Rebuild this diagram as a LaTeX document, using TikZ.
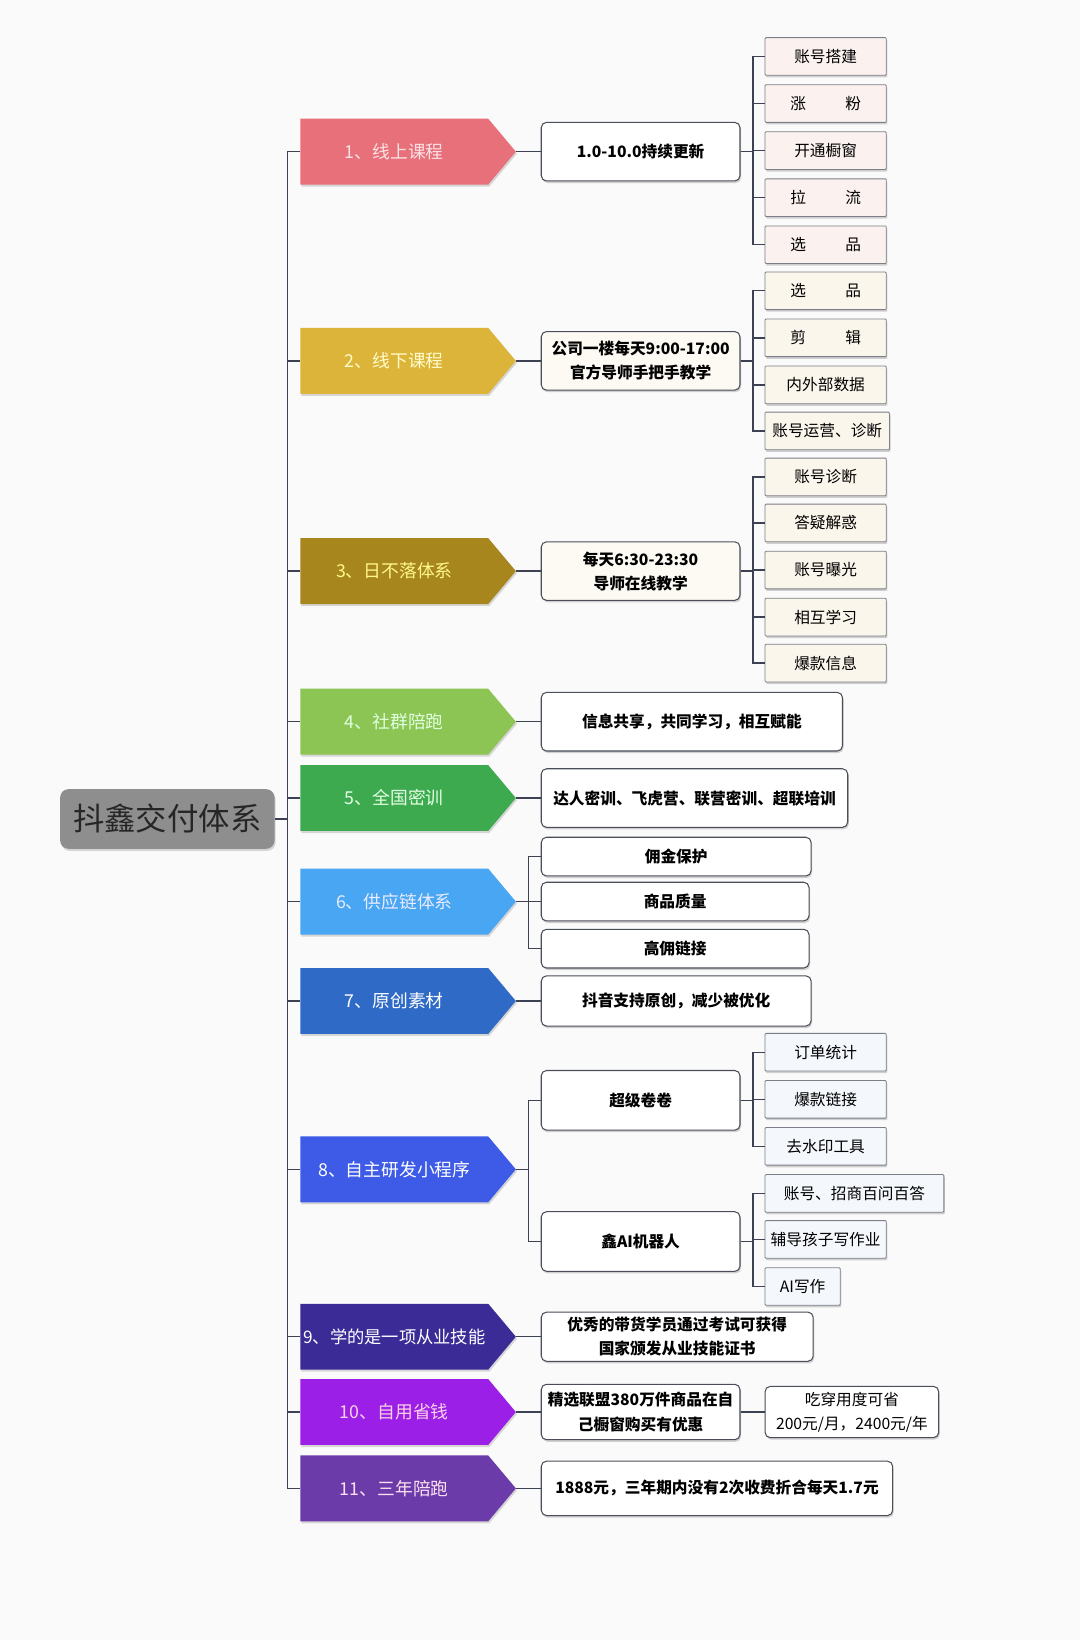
\documentclass[tikz,border=0pt]{standalone}
\usepackage{fontspec}
\setmainfont{Noto Sans CJK SC}
\usepackage{tikz}
\usepgflibrary{shapes}
\usetikzlibrary{shadows}
\usepackage{xcolor}
\definecolor{linec}{HTML}{3C4254}
\definecolor{rootgray}{HTML}{8E8E8E}
\definecolor{boxline}{HTML}{4A4E58}
\definecolor{leafline}{HTML}{7C7F88}
\definecolor{leafpink}{HTML}{FBF1EF}
\definecolor{leafcream}{HTML}{FBF6EC}
\definecolor{leafblue}{HTML}{F4F7FB}
\definecolor{catA}{HTML}{E8707A}
\definecolor{catB}{HTML}{DDB43A}
\definecolor{catC}{HTML}{A8861E}
\definecolor{catD}{HTML}{8DC554}
\definecolor{catE}{HTML}{3DAA50}
\definecolor{catF}{HTML}{48A6F2}
\definecolor{catG}{HTML}{2F6BC6}
\definecolor{catH}{HTML}{3D5BE6}
\definecolor{catI}{HTML}{3A2B96}
\definecolor{catJ}{HTML}{9B1FE6}
\definecolor{catK}{HTML}{6B3BAA}

\begin{document}
\begin{tikzpicture}[x=1pt,y=-1pt]
	 \tikzstyle{link}=[draw,line width=1.3pt,-,linec]
	 \tikzstyle{root}=[rectangle,rounded corners=8pt,fill=rootgray,minimum width=205pt,minimum height=57pt,font=\fontsize{30}{34}\selectfont,text=black!85,drop shadow={shadow xshift=1pt,shadow yshift=-2pt,opacity=.3}]
	 \tikzstyle{cat}=[signal,signal to=east,signal pointer angle=100,minimum width=206pt,minimum height=63pt,inner sep=2pt,anchor=west,font=\fontsize{17}{20}\selectfont,drop shadow={shadow xshift=1pt,shadow yshift=-2pt,opacity=.3}]
	 \tikzstyle{info}=[rectangle,rounded corners=5pt,draw=boxline,line width=1pt,fill=white,anchor=west,minimum height=56pt,inner sep=3pt,align=center,font=\fontsize{15}{23}\selectfont\bfseries,drop shadow={shadow xshift=1pt,shadow yshift=-2pt,opacity=.35}]
	 \tikzstyle{leaf}=[rectangle,rounded corners=1pt,draw=leafline,line width=0.8pt,fill=leafpink,anchor=west,minimum width=116pt,minimum height=36pt,inner sep=2pt,font=\fontsize{15}{18}\selectfont,drop shadow={shadow xshift=1pt,shadow yshift=-2pt,opacity=.35}]

	 \path[fill=white!98!black,use as bounding box] (0,0) rectangle (1033,1568);

	 \node[root] (root) at (160,783) {抖鑫交付体系};

	 \node[cat,fill=catA,text=white!80!catA] (c1) at (287,145) {1、线上课程};
	 \node[cat,fill=catB,text=white!80!yellow] (c2) at (287,345) {2、线下课程};
	 \node[cat,fill=catC,text=yellow!45!white] (c3) at (287,546) {3、日不落体系};
	 \node[cat,fill=catD,text=white!88!green] (c4) at (287,690) {4、社群陪跑};
	 \node[cat,fill=catE,text=white!90!green] (c5) at (287,763) {5、全国密训};
	 \node[cat,fill=catF,text=white!92!blue] (c6) at (287,862) {6、供应链体系};
	 \node[cat,fill=catG,text=white] (c7) at (287,957) {7、原创素材};
	 \node[cat,fill=catH,text=white] (c8) at (287,1118) {8、自主研发小程序};
	 \node[cat,fill=catI,text=white,inner xsep=0pt,font=\fontsize{16.5}{20}\selectfont] (c9) at (287,1278) {9、学的是一项从业技能};
	 \node[cat,fill=catJ,text=white!82!magenta] (c10) at (287,1350) {10、自用省钱};
	 \node[cat,fill=catK,text=white!88!magenta] (c11) at (287,1423) {11、三年陪跑};

	 \node[info,minimum width=190pt] (d1) at (517,145) {1.0-10.0持续更新};
	 \node[info,minimum width=190pt,fill=leafcream!60] (d2) at (517,345) {公司一楼每天9:00-17:00\\官方导师手把手教学};
	 \node[info,minimum width=190pt,fill=leafcream!60] (d3) at (517,546) {每天6:30-23:30\\导师在线教学};
	 \node[info,minimum width=288pt] (d4) at (517,690) {信息共享，共同学习，相互赋能};
	 \node[info,minimum width=293pt] (d5) at (517,763) {达人密训、飞虎营、联营密训、超联培训};
	 \node[info,minimum width=258pt,minimum height=37pt] (d6a) at (517,819) {佣金保护};
	 \node[info,minimum width=256pt,minimum height=37pt] (d6b) at (517,862) {商品质量};
	 \node[info,minimum width=256pt,minimum height=37pt] (d6c) at (517,907) {高佣链接};
	 \node[info,minimum width=258pt,minimum height=48pt] (d7) at (517,957) {抖音支持原创，减少被优化};
	 \node[info,minimum width=190pt,minimum height=57pt] (d8a) at (517,1052) {超级卷卷};
	 \node[info,minimum width=190pt,minimum height=57pt] (d8b) at (517,1187) {鑫AI机器人};
	 \node[info,minimum width=260pt,minimum height=47pt] (d9) at (517,1278) {优秀的带货学员通过考试可获得\\国家颁发从业技能证书};
	 \node[info,minimum width=190pt,minimum height=53pt,inner sep=1pt] (d10) at (517,1350) {精选联盟380万件商品在自\\己橱窗购买有优惠};
	 \node[info,minimum width=166pt,minimum height=49pt,font=\fontsize{15}{23}\selectfont] (e10) at (731,1350) {吃穿用度可省\\200元/月，2400元/年};
	 \node[info,minimum width=336pt,minimum height=52pt] (d11) at (517,1423) {1888元，三年期内没有2次收费折合每天1.7元};

	 \node[leaf] (l1a) at (731,54) {账号搭建};
	 \node[leaf] (l1b) at (731,99) {涨\hspace{2.5em}粉};
	 \node[leaf] (l1c) at (731,144) {开通橱窗};
	 \node[leaf] (l1d) at (731,189) {拉\hspace{2.5em}流};
	 \node[leaf] (l1e) at (731,234) {选\hspace{2.5em}品};

	 \node[leaf,fill=leafcream] (l2a) at (731,278) {选\hspace{2.5em}品};
	 \node[leaf,fill=leafcream] (l2b) at (731,323) {剪\hspace{2.5em}辑};
	 \node[leaf,fill=leafcream] (l2c) at (731,368) {内外部数据};
	 \node[leaf,fill=leafcream,minimum width=119pt] (l2d) at (731,412) {账号运营、诊断};

	 \node[leaf,fill=leafcream] (l3a) at (731,456) {账号诊断};
	 \node[leaf,fill=leafcream] (l3b) at (731,500) {答疑解惑};
	 \node[leaf,fill=leafcream] (l3c) at (731,545) {账号曝光};
	 \node[leaf,fill=leafcream] (l3d) at (731,590) {相互学习};
	 \node[leaf,fill=leafcream] (l3e) at (731,634) {爆款信息};

	 \node[leaf,fill=leafblue] (l8a) at (731,1006) {订单统计};
	 \node[leaf,fill=leafblue] (l8b) at (731,1051) {爆款链接};
	 \node[leaf,fill=leafblue] (l8c) at (731,1096) {去水印工具};
	 \node[leaf,fill=leafblue,minimum width=171pt] (l8d) at (731,1141) {账号、招商百问百答};
	 \node[leaf,fill=leafblue] (l8e) at (731,1185) {辅导孩子写作业};
	 \node[leaf,fill=leafblue,minimum width=72pt] (l8f) at (731,1230) {AI写作};

	 \draw[link] (c1.west) -- ++(-12,0) |- (root.east);
	 \draw[link] (c2.west) -- ++(-12,0) |- (root.east);
	 \draw[link] (c3.west) -- ++(-12,0) |- (root.east);
	 \draw[link] (c4.west) -- ++(-12,0) |- (root.east);
	 \draw[link] (c5.west) -- ++(-12,0) |- (root.east);
	 \draw[link] (c6.west) -- ++(-12,0) |- (root.east);
	 \draw[link] (c7.west) -- ++(-12,0) |- (root.east);
	 \draw[link] (c8.west) -- ++(-12,0) |- (root.east);
	 \draw[link] (c9.west) -- ++(-12,0) |- (root.east);
	 \draw[link] (c10.west) -- ++(-12,0) |- (root.east);
	 \draw[link] (c11.west) -- ++(-12,0) |- (root.east);

	 \draw[link] (c1.east) -- (d1.west);
	 \draw[link] (c2.east) -- (d2.west);
	 \draw[link] (c3.east) -- (d3.west);
	 \draw[link] (c4.east) -- (d4.west);
	 \draw[link] (c5.east) -- (d5.west);
	 \draw[link] (c6.east) -- ++(12,0) |- (d6a.west);
	 \draw[link] (c6.east) -- ++(12,0) |- (d6b.west);
	 \draw[link] (c6.east) -- ++(12,0) |- (d6c.west);
	 \draw[link] (c7.east) -- (d7.west);
	 \draw[link] (c8.east) -- ++(12,0) |- (d8a.west);
	 \draw[link] (c8.east) -- ++(12,0) |- (d8b.west);
	 \draw[link] (c9.east) -- (d9.west);
	 \draw[link] (c10.east) -- (d10.west);
	 \draw[link] (d10.east) -- (e10.west);
	 \draw[link] (c11.east) -- (d11.west);

	 \draw[link] (d1.east) -- ++(12,0) |- (l1a.west);
	 \draw[link] (d1.east) -- ++(12,0) |- (l1b.west);
	 \draw[link] (d1.east) -- ++(12,0) |- (l1c.west);
	 \draw[link] (d1.east) -- ++(12,0) |- (l1d.west);
	 \draw[link] (d1.east) -- ++(12,0) |- (l1e.west);
	 \draw[link] (d2.east) -- ++(12,0) |- (l2a.west);
	 \draw[link] (d2.east) -- ++(12,0) |- (l2b.west);
	 \draw[link] (d2.east) -- ++(12,0) |- (l2c.west);
	 \draw[link] (d2.east) -- ++(12,0) |- (l2d.west);
	 \draw[link] (d3.east) -- ++(12,0) |- (l3a.west);
	 \draw[link] (d3.east) -- ++(12,0) |- (l3b.west);
	 \draw[link] (d3.east) -- ++(12,0) |- (l3c.west);
	 \draw[link] (d3.east) -- ++(12,0) |- (l3d.west);
	 \draw[link] (d3.east) -- ++(12,0) |- (l3e.west);
	 \draw[link] (d8a.east) -- ++(12,0) |- (l8a.west);
	 \draw[link] (d8a.east) -- ++(12,0) |- (l8b.west);
	 \draw[link] (d8a.east) -- ++(12,0) |- (l8c.west);
	 \draw[link] (d8b.east) -- ++(12,0) |- (l8d.west);
	 \draw[link] (d8b.east) -- ++(12,0) |- (l8e.west);
	 \draw[link] (d8b.east) -- ++(12,0) |- (l8f.west);
 \end{tikzpicture}
\end{document}
